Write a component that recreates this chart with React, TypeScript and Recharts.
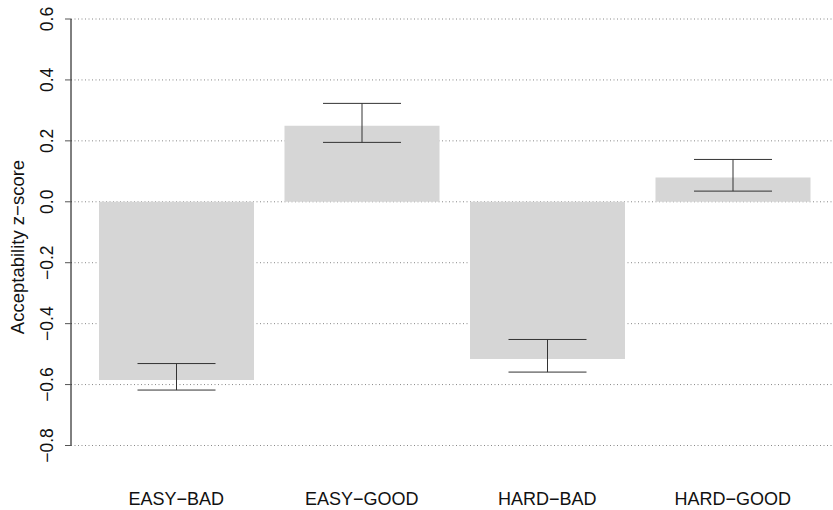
import React from 'react';
import { BarChart, Bar, XAxis, YAxis, CartesianGrid, ErrorBar } from 'recharts';

const categories = ['EASY\u2212BAD', 'EASY\u2212GOOD', 'HARD\u2212BAD', 'HARD\u2212GOOD'];
const means = [-0.585, 0.25, -0.516, 0.08];
const lowerCI = [-0.618, 0.195, -0.559, 0.035];
const upperCI = [-0.531, 0.323, -0.452, 0.139];
const yTicks = [-0.8, -0.6, -0.4, -0.2, 0, 0.2, 0.4, 0.6];

const data = categories.map((name, i) => ({
  name,
  value: means[i],
  err: [means[i] - lowerCI[i], upperCI[i] - means[i]],
}));

const FONT = '"Liberation Sans", Arial, Helvetica, sans-serif';

const fmt = (v: number) => v.toFixed(1).replace('-', '\u2212');

const YTick = (props: any) => {
  const { y, payload } = props;
  const x = 53;
  return (
    <text
      x={x}
      y={y}
      transform={`rotate(-90, ${x}, ${y})`}
      textAnchor="middle"
      fontSize={17.5}
      fontFamily={FONT}
      fill="#111"
    >
      {fmt(payload.value)}
    </text>
  );
};

const XTick = (props: any) => {
  const { x, payload } = props;
  return (
    <text x={x} y={505} textAnchor="middle" fontSize={18} fontFamily={FONT} fill="#111">
      {payload.value}
    </text>
  );
};

const YLabel = () => (
  <text
    x={24}
    y={247}
    transform="rotate(-90, 24, 247)"
    textAnchor="middle"
    fontSize={18.5}
    fontFamily={FONT}
    fill="#111"
  >
    Acceptability z{'\u2212'}score
  </text>
);

const App: React.FC = () => {
  return (
    <div style={{ position: 'absolute', left: 0, top: 0, width: 833, height: 510, background: '#fff' }}>
      <BarChart
        width={833}
        height={510}
        data={data}
        margin={{ top: 19, right: 0, bottom: 0, left: 0 }}
        barCategoryGap={15.5}
      >
        <CartesianGrid vertical={false} stroke="#888" strokeDasharray="1 2.5" />
        <XAxis
          dataKey="name"
          axisLine={false}
          tickLine={false}
          height={64.5}
          padding={{ left: 12.5, right: 7.5 }}
          tick={<XTick />}
          interval={0}
        />
        <YAxis
          type="number"
          domain={[-0.8, 0.6]}
          ticks={yTicks}
          width={71}
          axisLine={{ stroke: '#000' }}
          tickLine={{ stroke: '#555' }}
          tickSize={6}
          tick={<YTick />}
          interval={0}
          label={<YLabel />}
        />
        <Bar dataKey="value" fill="#d6d6d6" isAnimationActive={false}>
          <ErrorBar dataKey="err" width={39} stroke="#333" strokeWidth={1} direction="y" />
        </Bar>
      </BarChart>
    </div>
  );
};

export default App;
